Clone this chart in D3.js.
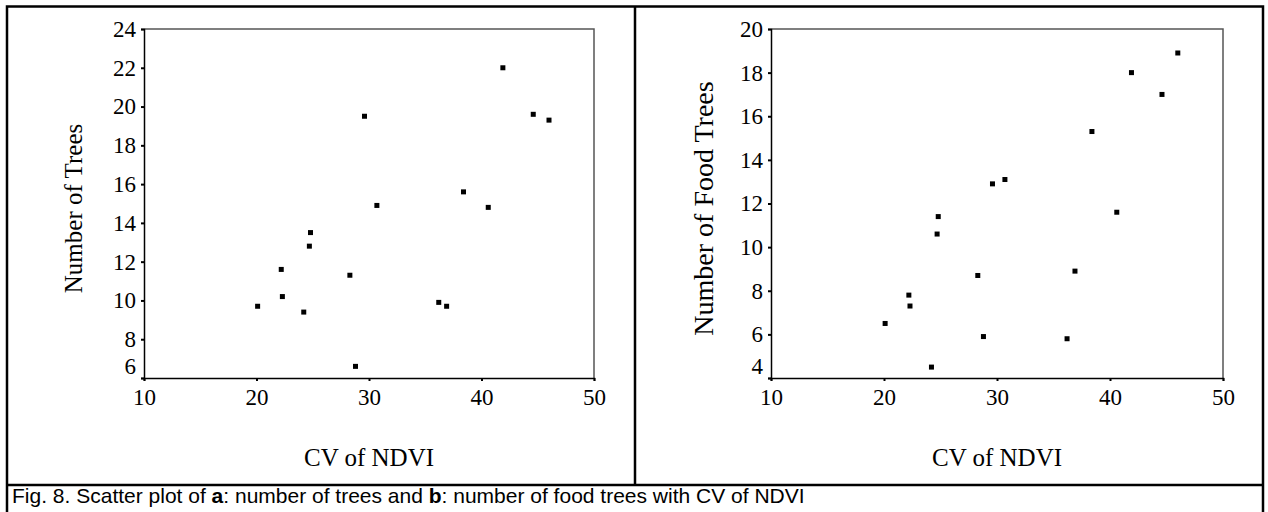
<!DOCTYPE html>
<html>
<head>
<meta charset="utf-8">
<script src="https://cdn.jsdelivr.net/npm/d3@7"></script>
<style>
  body { margin: 0; background: #fff; }
  svg { display: block; }
</style>
</head>
<body>
<svg id="fig" width="1268" height="512"></svg>
<script>
// CV of NDVI per plot (shared x values of both panels)
const cvNdvi = [20.1, 22.2, 22.3, 24.2, 24.7, 24.8, 28.3, 28.8, 29.6, 30.7, 36.2, 36.9, 38.4, 40.6, 41.9, 44.6, 46.0];
// panel a: number of trees
const numTrees = [9.7, 11.6, 10.2, 9.4, 12.8, 13.5, 11.3, 6.6, 19.5, 14.9, 9.9, 9.7, 15.6, 14.8, 22.0, 19.6, 19.3];
// panel b: number of food trees
const numFoodTrees = [6.5, 7.8, 7.3, 4.5, 10.6, 11.4, 8.7, 5.9, 12.9, 13.1, 5.8, 8.9, 15.3, 11.6, 18.0, 17.0, 18.9];

const xTicks = [10, 20, 30, 40, 50];
const yTicksA = [6, 8, 10, 12, 14, 16, 18, 20, 22, 24];
const yTicksB = [4, 6, 8, 10, 12, 14, 16, 18, 20];

const svg = d3.select("#fig");
const serif = "'Liberation Serif', 'Times New Roman', serif";

// outer frame, panel divider, caption separator
const frame = svg.append("g").attr("stroke", "#000").attr("stroke-width", 2.5).attr("fill", "none");
frame.append("path").attr("d", "M7,514 V6.5 H1263 V514");
frame.append("line").attr("x1", 635).attr("x2", 635).attr("y1", 6).attr("y2", 485);
frame.append("line").attr("x1", 7).attr("x2", 1263).attr("y1", 485).attr("y2", 485);

function drawPanel(opts) {
    const {left, right, top, bottom, yTicks, values, yTitle, titleX, titleSize} = opts;

    const x = d3.scaleLinear()
        .domain(d3.extent(xTicks))
        .range([left, right]);

    const y = d3.scaleLinear()
        .domain(d3.extent(yTicks))
        .range([bottom, top]);

    const g = svg.append("g");

    // grey top/right frame of plot area
    g.append("path")
        .attr("d", `M${left},${top} H${right} V${bottom}`)
        .attr("fill", "none")
        .attr("stroke", "#555")
        .attr("stroke-width", 1.5);

    const xAxis = g.append("g")
        .attr("transform", `translate(0,${bottom})`)
        .call(d3.axisBottom(x).tickValues(xTicks).tickSize(3).tickPadding(8).tickFormat(d3.format("d")));

    const yAxis = g.append("g")
        .attr("transform", `translate(${left},0)`)
        .call(d3.axisLeft(y).tickValues(yTicks).tickSize(3).tickPadding(5).tickFormat(d3.format("d")));

    [xAxis, yAxis].forEach(a => {
        a.attr("font-family", null).attr("font-size", null);
        a.select(".domain").attr("stroke", "#000").attr("stroke-width", 1.5);
        a.selectAll(".tick line").attr("stroke", "#000").attr("stroke-width", 2);
        a.selectAll(".tick text")
            .attr("fill", "#000")
            .style("font-family", serif)
            .style("font-size", "23px");
    });

    // lowest y label sits a little above the x axis
    yAxis.selectAll(".tick text")
        .filter(d => d === yTicks[0])
        .attr("dy", "-0.2em");

    g.append("g")
        .selectAll("rect")
        .data(cvNdvi.map((c, i) => [c, values[i]]))
        .join("rect")
        .attr("x", d => x(d[0]) - 2.5)
        .attr("y", d => y(d[1]) - 2.5)
        .attr("width", 5)
        .attr("height", 5)
        .attr("fill", "#000");

    g.append("text")
        .attr("x", (left + right) / 2)
        .attr("y", 466)
        .attr("text-anchor", "middle")
        .style("font-family", serif)
        .style("font-size", "25px")
        .text("CV of NDVI");

    g.append("text")
        .attr("transform", `translate(${titleX},${(top + bottom) / 2 + 5}) rotate(-90)`)
        .attr("text-anchor", "middle")
        .style("font-family", serif)
        .style("font-size", titleSize + "px")
        .text(yTitle);
}

drawPanel({left: 144, right: 594, top: 29, bottom: 378, yTicks: yTicksA,
    values: numTrees, yTitle: "Number of Trees", titleX: 82, titleSize: 25});
drawPanel({left: 771, right: 1223, top: 29, bottom: 378, yTicks: yTicksB,
    values: numFoodTrees, yTitle: "Number of Food Trees", titleX: 713, titleSize: 28});

const cap = svg.append("text")
    .attr("x", 12)
    .attr("y", 503)
    .style("font-family", "'Liberation Sans', Arial, sans-serif")
    .style("font-size", "21px");
cap.append("tspan").text("Fig. 8. Scatter plot of ");
cap.append("tspan").attr("font-weight", "bold").text("a");
cap.append("tspan").text(": number of trees and ");
cap.append("tspan").attr("font-weight", "bold").text("b");
cap.append("tspan").text(": number of food trees with CV of NDVI");
</script>
</body>
</html>
